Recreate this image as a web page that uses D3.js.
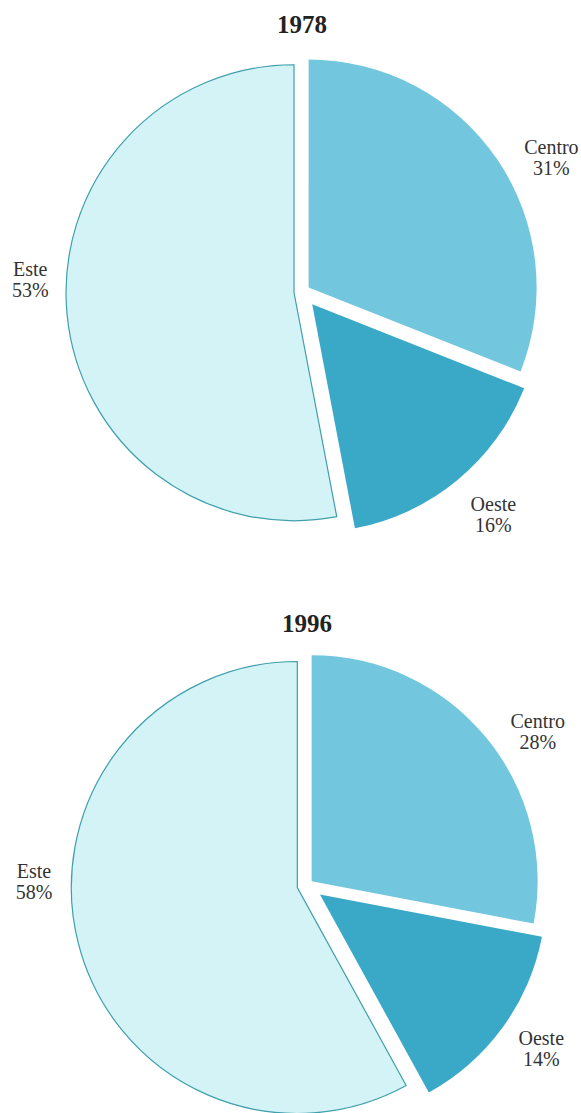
<!DOCTYPE html>
<html>
<head>
<meta charset="utf-8">
<script src="https://cdn.jsdelivr.net/npm/d3@7"></script>
<style>
  body { margin: 0; background: #fff; }
  text { font-family: "Liberation Serif", "DejaVu Serif", serif; }
</style>
</head>
<body>
<div id="container"></div>
<script>
//******************** DATA ********************//
const regions = ["Centro", "Oeste", "Este"];
const years = ["1978", "1996"];
const shares1978 = [31, 16, 53];
const shares1996 = [28, 14, 58];

//******************** SETUP ********************//
const width = 581;
const height = 1113;

const colors = { Centro: "#72c7de", Oeste: "#3aa9c7", Este: "#d3f3f7" };
const strokes = { Centro: "none", Oeste: "none", Este: "#3f9fab" };

// one entry per chart: centre, radius, explode distances and label nudges (degrees)
const charts = [
    { year: years[0], values: shares1978, cx: 302, cy: 292, r: 228, titleY: 33,
      explode: { Centro: 8, Oeste: 16, Este: 8 },
      labelR: { Centro: 283, Oeste: 294, Este: 272 },
      labelNudge: { Centro: 6, Oeste: -1, Este: 8 } },
    { year: years[1], values: shares1996, cx: 307, cy: 885, r: 226, titleY: 632,
      explode: { Centro: 6, Oeste: 16, Este: 10 },
      labelR: { Centro: 277, Oeste: 286, Este: 273 },
      labelNudge: { Centro: 6, Oeste: -1, Este: 15 } }
];

const svg = d3.select("div#container")
    .append("svg")
    .attr("width", width)
    .attr("height", height);

const pie = d3.pie().sort(null).value(d => d.value);

//******************** DRAWING ********************//
charts.forEach(chart => {
    const data = regions.map((name, i) => ({ name: name, value: chart.values[i] }));
    const arcs = pie(data);
    const arc = d3.arc().innerRadius(0).outerRadius(chart.r);

    const g = svg.append("g")
        .attr("transform", `translate(${chart.cx},${chart.cy})`);

    // title
    svg.append("text")
        .attr("x", chart.cx)
        .attr("y", chart.titleY)
        .attr("text-anchor", "middle")
        .attr("font-size", 25)
        .attr("font-weight", "bold")
        .attr("fill", "#222")
        .text(chart.year);

    // slices, pushed out along their mid angle
    g.selectAll("path")
        .data(arcs)
        .join("path")
        .attr("transform", d => {
            const mid = (d.startAngle + d.endAngle) / 2;
            const e = chart.explode[d.data.name];
            return `translate(${e * Math.sin(mid)},${-e * Math.cos(mid)})`;
        })
        .attr("d", arc)
        .attr("fill", d => colors[d.data.name])
        .attr("stroke", d => strokes[d.data.name])
        .attr("stroke-width", 1.2);

    // labels
    const labels = g.selectAll("g.label")
        .data(arcs)
        .join("g")
        .attr("class", "label")
        .attr("transform", d => {
            const mid = (d.startAngle + d.endAngle) / 2 + chart.labelNudge[d.data.name] * Math.PI / 180;
            const lr = chart.labelR[d.data.name];
            return `translate(${lr * Math.sin(mid)},${-lr * Math.cos(mid)})`;
        });

    labels.append("text")
        .attr("text-anchor", "middle")
        .attr("y", -4)
        .attr("font-size", 20)
        .attr("fill", "#333")
        .text(d => d.data.name);

    labels.append("text")
        .attr("text-anchor", "middle")
        .attr("y", 17)
        .attr("font-size", 20)
        .attr("fill", "#333")
        .text(d => d.data.value + "%");
});
</script>
</body>
</html>
